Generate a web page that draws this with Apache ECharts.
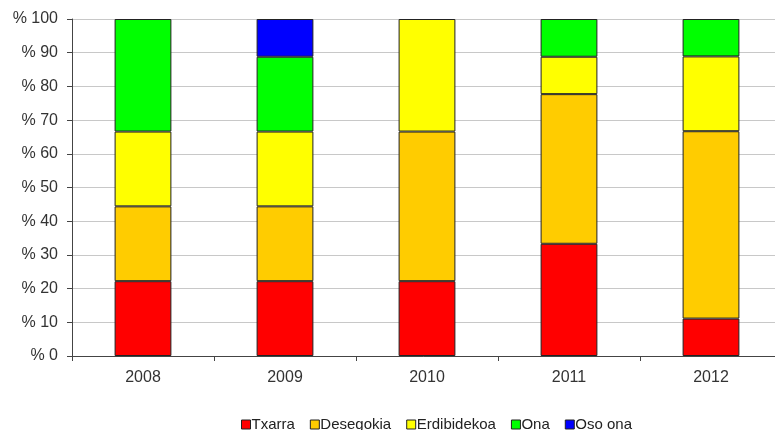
<!DOCTYPE html>
<html><head><meta charset="utf-8">
<script src="https://cdn.jsdelivr.net/npm/echarts@6/dist/echarts.min.js"></script>
<style>html,body{margin:0;padding:0;background:#fff}#c{width:775px;height:430px}</style>
</head><body><div id="c"></div>
<script>
var categories = ['2008','2009','2010','2011','2012'];
var txarra      = [22.2, 22.2, 22.2, 33.3, 11.1];
var desegokia   = [22.2, 22.2, 44.4, 44.4, 55.6];
var erdibidekoa = [22.2, 22.2, 33.4, 11.1, 22.2];
var ona         = [33.4, 22.2,  0.0, 11.2, 11.1];
var osoOna      = [ 0.0, 11.2,  0.0,  0.0,  0.0];
var seriesNames = ['Txarra','Desegokia','Erdibidekoa','Ona','Oso ona'];
var colors = ['#ff0000','#ffcc00','#ffff00','#00ff00','#0000ff'];
var dataSets = [txarra, desegokia, erdibidekoa, ona, osoOna];

var chart = echarts.init(document.getElementById('c'), null, {renderer:'canvas'});
var series = dataSets.map(function(d,i){
  return {
    name: seriesNames[i], type:'bar', stack:'t', data: d.map(function(v){return v>0.05?v:null;}),
    barWidth:'40%',
    itemStyle:{color:colors[i], borderColor:'#222', borderWidth:1},
    emphasis:{disabled:true}
  };
});
chart.setOption({
  animation:false,
  color: colors,
  grid:{left:72, width:710, top:19, height:337, outerBoundsMode:'none', containLabel:false},
  legend:{
    top:412, left:236, itemWidth:9, itemHeight:9, itemGap:15,
    icon:'rect',
    textStyle:{fontFamily:'Liberation Sans, Arial', fontSize:15, color:'#222', padding:[0,0,0,-4]},
    itemStyle:{borderColor:'#222', borderWidth:1},
    data: seriesNames
  },
  xAxis:{
    type:'category', data:categories,
    axisLine:{lineStyle:{color:'#444', width:1}},
    axisTick:{show:true, length:5, lineStyle:{color:'#444'}},
    axisLabel:{fontFamily:'Liberation Sans, Arial', fontSize:16, color:'#333', margin:14}
  },
  yAxis:{
    type:'value', min:0, max:100, interval:10,
    axisLine:{show:true, lineStyle:{color:'#444', width:1}},
    axisTick:{show:true, length:5, lineStyle:{color:'#444'}},
    splitLine:{lineStyle:{color:'#c8c8c8'}},
    axisLabel:{fontFamily:'Liberation Sans, Arial', fontSize:16, color:'#333', margin:14,
      formatter:function(v){return '% ' + v;}}
  },
  series: series
});
</script></body></html>
